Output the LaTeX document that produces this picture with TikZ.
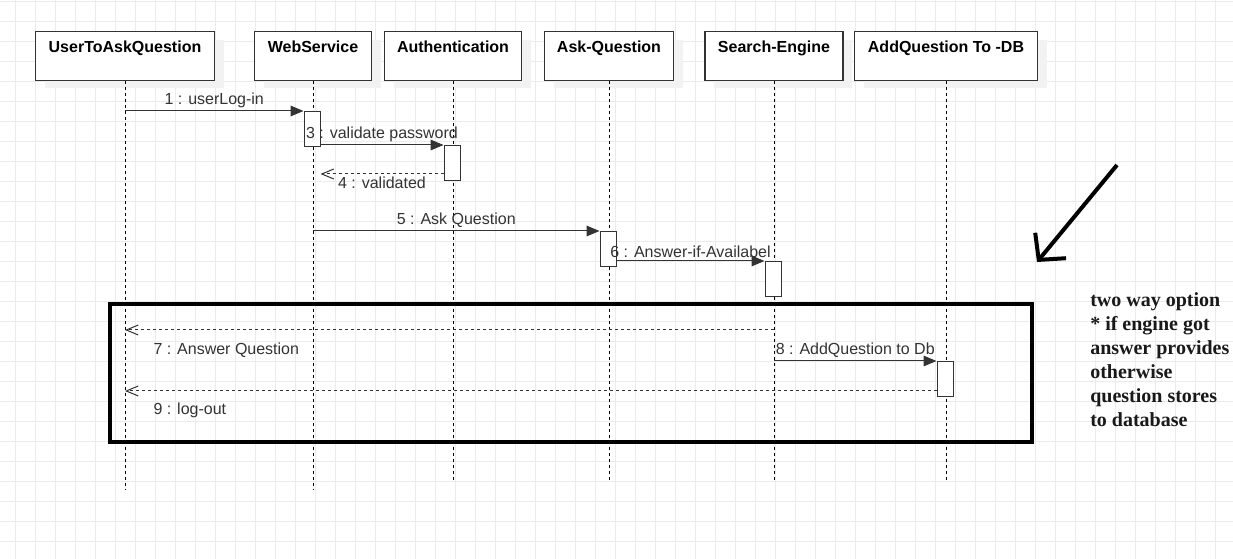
\documentclass[tikz,border=0pt]{standalone}
\usepackage{fontspec}
\setmainfont{Liberation Sans}
\newfontfamily\notefont{Liberation Serif}
\usetikzlibrary{positioning,arrows.meta,shadows}

\begin{document}
\begin{tikzpicture}[x=0.75pt, y=-0.75pt,
    gridline/.style={draw=black!8, line width=0.75pt},
    head/.style={draw=black!80, fill=white, line width=0.9pt, anchor=north, inner sep=0pt, text height=15.4pt, text depth=21pt, font=\bfseries\fontsize{12}{14}\selectfont, general shadow={fill=black!5, shadow xshift=6.75pt, shadow yshift=-6pt}},
    lifeline/.style={draw=black, line width=0.75pt, dash pattern=on 2.25pt off 2.25pt},
    act/.style={draw=black!80, fill=white, line width=0.75pt, anchor=north, minimum width=12pt, minimum height=26.25pt, inner sep=0pt},
    msg/.style={draw=black!80, line width=0.75pt, -{Triangle[length=9.75pt,width=8pt]}},
    ret/.style={draw=black!80, line width=0.75pt, dash pattern=on 2.25pt off 2.25pt, -{Straight Barb[length=9pt,width=7.5pt]}},
    lbl/.style={text=black!80, inner sep=2pt, font=\fontsize{12}{14}\selectfont},
    altbox/.style={draw=black, line width=3pt},
    remark/.style={anchor=north west, align=left, inner sep=0pt, text=black!90, font=\notefont\bfseries\fontsize{15}{18}\selectfont},
    hint/.style={draw=black, line width=3pt, -{Straight Barb[length=14pt,width=30pt]}}]
    \useasboundingbox (0,0) rectangle (1233,559);
    \fill[white] (0,0) rectangle (1233,559);
    \foreach \gx in {15,35,...,1235} \draw[gridline] (\gx,0) -- (\gx,559);
    \foreach \gy in {2,22,...,542} \draw[gridline] (0,\gy) -- (1233,\gy);

    \node[head, minimum width=134.25pt] (user) at (125,31) {UserToAskQuestion};
    \node[head, minimum width=87.75pt] (web) at (313,31) {WebService};
    \node[head, minimum width=102.75pt] (auth) at (453,31) {Authentication};
    \node[head, minimum width=96.75pt] (ask) at (609,31) {Ask-Question};
    \node[head, minimum width=103.5pt] (search) at (774,31) {Search-Engine};
    \node[head, minimum width=137.25pt] (db) at (946,31) {AddQuestion To -DB};

    \foreach \n/\e in {user/490,web/490,auth/480,ask/480,search/480,db/480} {
        \coordinate (\n-end) at (\n.south |- 0,\e);
        \draw[lifeline] (\n.south) -- (\n-end);
    }

    \node[act] (a1) at (312,111) {};
    \node[act] (a2) at (452,145) {};
    \node[act] (a3) at (608,231) {};
    \node[act] (a4) at (773,261) {};
    \node[act] (a5) at (945,361) {};

    \coordinate (r4) at (0,174);
    \coordinate (r7) at (0,330);
    \coordinate (r9) at (0,391);

    \path
        (user |- a1.north west) edge[msg] node[lbl, above] {1 : userLog-in} (a1.north west)
        (a1.east |- a2.north west) edge[msg] node[lbl, above] {3 : validate password} (a2.north west)
        (a2.west |- r4) edge[ret] node[lbl, below] {4 : validated} (a1.east |- r4)
        (web |- a3.north west) edge[msg] node[lbl, above] {5 : Ask Question} (a3.north west)
        (a3.east |- a4.north west) edge[msg] node[lbl, above] {6 : Answer-if-Availabel} (a4.north west)
        (search |- r7) edge[ret] node[lbl, pos=1, anchor=north west, xshift=19pt, yshift=-7pt] {7 : Answer Question} (user |- r7)
        (search |- a5.north west) edge[msg] node[lbl, above] {8 : AddQuestion to Db} (a5.north west)
        (a5.west |- r9) edge[ret] node[lbl, pos=1, anchor=north west, xshift=19pt, yshift=-6.5pt] {9 : log-out} (user |- r9);

    \draw[altbox] (110,304) rectangle (1032,442);

    \node[remark] (note) at (1090,292) {two way option\\* if engine got\\answer provides\\otherwise\\question stores\\to database};

    \coordinate (hintFrom) at (1117,165);
    \coordinate (hintTo) at (1037,262);
    \draw[hint] (hintFrom) -- (hintTo);
\end{tikzpicture}
\end{document}
